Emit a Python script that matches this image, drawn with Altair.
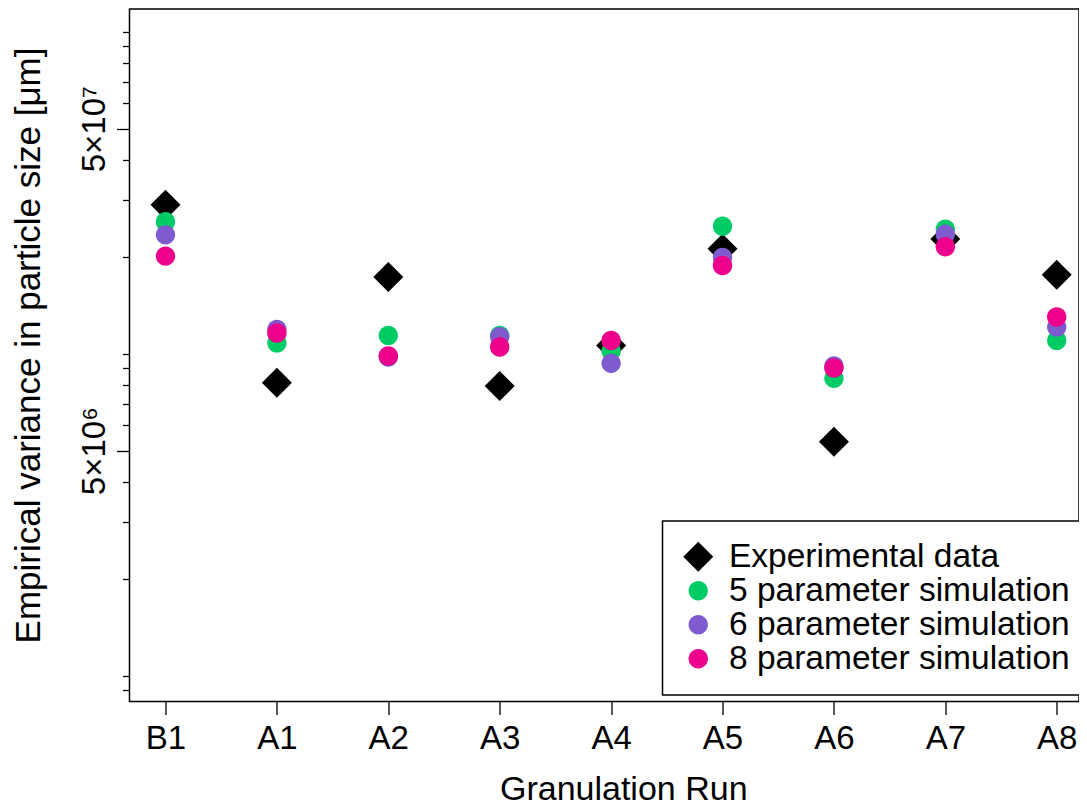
import json
import altair as alt
import pandas as pd

# ---------------- data ----------------
runs = ["B1", "A1", "A2", "A3", "A4", "A5", "A6", "A7", "A8"]
experimental = [2.90e7, 8.13e6, 1.73e7, 7.94e6, 1.06e7, 2.12e7, 5.33e6, 2.27e7, 1.76e7]
sim5 = [2.57e7, 1.08e7, 1.14e7, 1.14e7, 1.02e7, 2.49e7, 8.39e6, 2.44e7, 1.10e7]
sim6 = [2.34e7, 1.19e7, 9.77e6, 1.13e7, 9.34e6, 1.99e7, 9.17e6, 2.35e7, 1.21e7]
sim8 = [2.01e7, 1.16e7, 9.84e6, 1.05e7, 1.10e7, 1.88e7, 9.03e6, 2.15e7, 1.30e7]

series_names = ["Experimental data", "5 parameter simulation",
                "6 parameter simulation", "8 parameter simulation"]
series_values = [experimental, sim5, sim6, sim8]
series_colors = ["#000000", "#00CC66", "#7F5BD0", "#EC008C"]

y_tick_values = [9e5, 1e6, 2e6, 3e6, 4e6, 5e6, 6e6, 7e6, 8e6, 9e6,
                 1e7, 2e7, 3e7, 4e7, 5e7, 6e7, 7e7, 8e7, 9e7, 1e8]
y_labelled = {5e6: "5×10⁶", 5e7: "5×10⁷"}

# ---------------- table ----------------
rows = []
for name, vals in zip(series_names, series_values):
    for i, (run, v) in enumerate(zip(runs, vals)):
        rows.append({"run": run, "pos": i + 1, "series": name, "value": v})
df = pd.DataFrame(rows)

# ---------------- styling ----------------
FONT = "Liberation Sans"
diamond = "M0,-1L1,0L0,1L-1,0Z"
def circ(r):
    return f"M{-r},0A{r},{r} 0 1,0 {r},0A{r},{r} 0 1,0 {-r},0Z"
shapes = [diamond, circ(0.64), circ(0.64), circ(0.64)]
sizes = [900, 919, 681, 478]

W, H = 949.5, 692.5
ydom = [10 ** 5.92, 10 ** (8.08 - 3 / 322)]
xdom = [0.677, 9.200]

major_test = " || ".join(f"datum.value == {int(v)}" for v in y_labelled)
ylabel_expr = " : ".join(f"datum.value == {int(v)} ? '{t}'" for v, t in y_labelled.items()) + " : ''"
xlabel_expr = f"{json.dumps(runs)}[datum.value - 1]"

chart = alt.Chart(df).mark_point(filled=True, opacity=1, strokeWidth=0).encode(
    x=alt.X("pos:Q",
            scale=alt.Scale(domain=xdom, nice=False, zero=False),
            axis=alt.Axis(values=list(range(1, len(runs) + 1)), labelExpr=xlabel_expr,
                          title="Granulation Run", tickSize=13, tickColor="black",
                          tickWidth=1.3, domain=False, grid=False,
                          labelFontSize=33, labelFont=FONT, labelColor="black",
                          labelPadding=8, labelAngle=0,
                          titleFont=FONT, titleFontSize=34, titleFontWeight="normal",
                          titleColor="black", titleBaseline="alphabetic",
                          titleY=98, titleX=W / 2 + 19)),
    y=alt.Y("value:Q",
            scale=alt.Scale(type="log", domain=ydom, nice=False, zero=False),
            axis=alt.Axis(values=y_tick_values, labelExpr=ylabel_expr,
                          tickSize={"condition": {"test": major_test, "value": 13}, "value": 7},
                          tickColor="black", tickWidth=1.3, domain=False, grid=False,
                          labelOverlap=False, labelBound=False,
                          labelAngle=270, labelAlign="center", labelBaseline="alphabetic",
                          labelPadding=12, labelFontSize=33, labelFont=FONT,
                          labelColor="black",
                          title="Empirical variance in particle size [μm]",
                          titleFont=FONT, titleFontSize=35, titleFontWeight="normal",
                          titleColor="black", titleAngle=270, titleAlign="center",
                          titleBaseline="alphabetic", titleX=-90, titleY=336)),
    color=alt.Color("series:N", scale=alt.Scale(domain=series_names, range=series_colors),
                    legend=alt.Legend(title=None, orient="none", legendX=533, legendY=512,
                                      labelFont=FONT, labelFontSize=33.5, labelColor="black",
                                      labelLimit=600, labelOffset=14, symbolSize=484,
                                      symbolOffset=0,
                                      symbolStrokeWidth=0, rowPadding=-6.3, padding=19,
                                      strokeColor="black", fillColor="white")),
    shape=alt.Shape("series:N", scale=alt.Scale(domain=series_names, range=shapes)),
    size=alt.Size("series:N", scale=alt.Scale(domain=series_names, range=sizes), legend=None),
    order=alt.Order("order:Q"),
).transform_calculate(
    order=f"indexof({json.dumps(series_names)}, datum.series)"
).properties(
    width=W, height=H,
    autosize=alt.AutoSizeParams(type="none"),
    padding={"left": 121.5, "top": 1, "right": 0, "bottom": 100.5},
).configure_view(
    stroke="black", strokeWidth=1.5
).configure_legend(
    strokeWidth=1.5
)

chart.save("out.html", embed_options={"renderer": "svg", "actions": False})
